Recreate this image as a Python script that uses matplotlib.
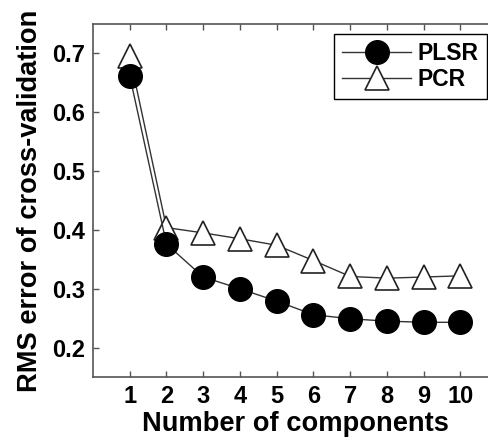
import numpy as np
import matplotlib
matplotlib.use('Agg')
import matplotlib.pyplot as plt

plt.rcParams['font.family'] = ['Liberation Sans', 'DejaVu Sans']
plt.rcParams['font.weight'] = 'bold'

components = [1, 2, 3, 4, 5, 6, 7, 8, 9, 10]
plsr = [0.662, 0.376, 0.320, 0.300, 0.279, 0.256, 0.249, 0.245, 0.243, 0.243]
pcr = [0.695, 0.404, 0.395, 0.385, 0.374, 0.348, 0.321, 0.318, 0.320, 0.322]
yticks = [0.2, 0.3, 0.4, 0.5, 0.6, 0.7]

fig = plt.figure(figsize=(4.88, 4.42), dpi=100)
ax = fig.add_axes([0.1906, 0.147, 0.828, 0.7986])

ax.plot(components, pcr, color='#333333', lw=1.0, marker='^', ms=17,
        mfc='white', mec='#222222', mew=1.2, label='PCR', zorder=2)
ax.plot(components, plsr, color='#333333', lw=1.0, marker='o', ms=17,
        mfc='black', mec='black', label='PLSR', zorder=3)

ax.set_xlim(0, 11)
ax.set_ylim(0.15, 0.75)
ax.set_xticks(components)
ax.set_yticks(yticks)
ax.set_yticklabels(['%.1f' % v for v in yticks])
ax.tick_params(direction='in', length=4, width=1, color='#555555',
               labelsize=17, top=True, right=True, pad=6)
for lab in ax.get_xticklabels() + ax.get_yticklabels():
    lab.set_fontweight('bold')
for s in ax.spines.values():
    s.set_color('#555555')
    s.set_linewidth(1.2)

ax.set_xlabel('Number of components', fontsize=19.6, fontweight='bold', labelpad=2)
ax.set_ylabel('RMS error of cross-validation', fontsize=19.6, fontweight='bold', labelpad=6)

h, l = ax.get_legend_handles_labels()
leg = ax.legend(h[::-1], l[::-1], loc='upper right', bbox_to_anchor=(487/488, 1 - 34/442),
                bbox_transform=fig.transFigure, handlelength=3.0,
                fancybox=False, framealpha=1, edgecolor='black', borderpad=0.35,
                labelspacing=0.15, handletextpad=0.3, borderaxespad=0,
                prop={'weight': 'bold', 'size': 16.5})
leg.get_frame().set_linewidth(1.0)

fig.savefig('out.png', dpi=100)
